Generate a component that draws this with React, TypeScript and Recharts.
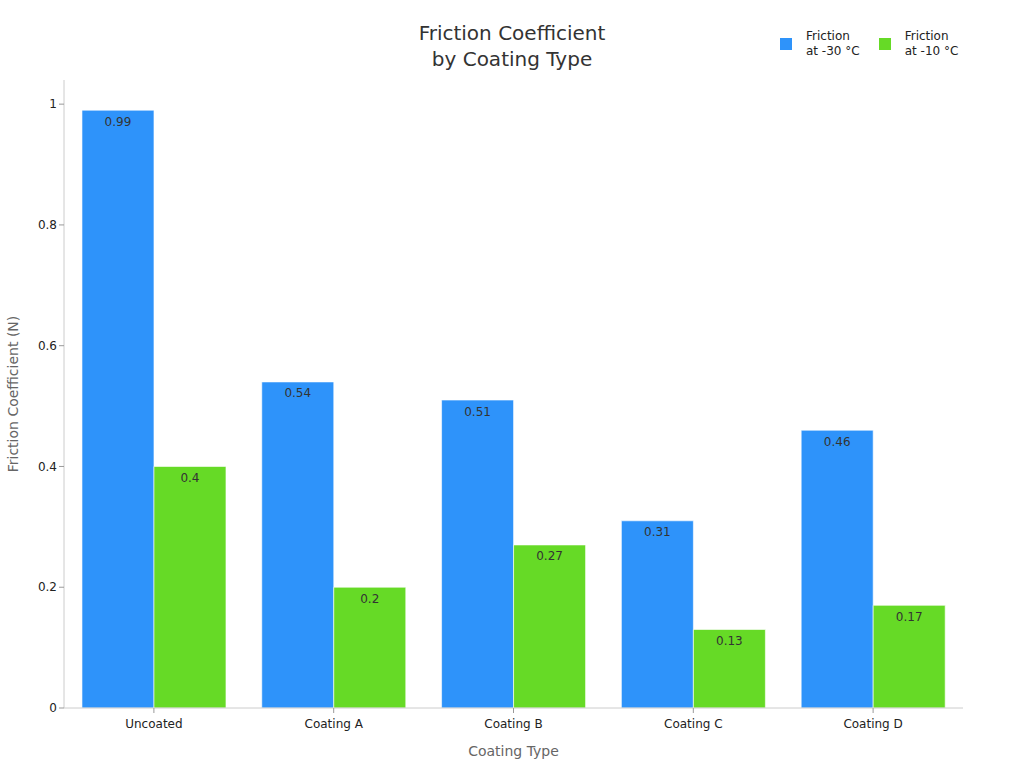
import React from 'react';
import { BarChart, Bar, XAxis, YAxis, LabelList } from 'recharts';

const categories = ['Uncoated', 'Coating A', 'Coating B', 'Coating C', 'Coating D'];
const frictionMinus30 = [0.99, 0.54, 0.51, 0.31, 0.46];
const frictionMinus10 = [0.4, 0.2, 0.27, 0.13, 0.17];
const yTicks = [0, 0.2, 0.4, 0.6, 0.8, 1];

const SERIES = [
  { key: 'cold', name: ['Friction', 'at -30 °C'], color: '#2E93FA' },
  { key: 'warm', name: ['Friction', 'at -10 °C'], color: '#66DA26' },
];

const data = categories.map((name, i) => ({
  name,
  cold: frictionMinus30[i],
  warm: frictionMinus10[i],
}));

const FONT = '"DejaVu Sans", sans-serif';

export default function App() {
  return (
    <div style={{ position: 'fixed', left: 0, top: 0, width: 1024, height: 768, background: '#fff' }}>
      <div
        style={{
          position: 'absolute',
          top: 20,
          left: 0,
          width: 1024,
          textAlign: 'center',
          fontFamily: FONT,
          fontSize: 20,
          lineHeight: '26px',
          color: '#333',
        }}
      >
        Friction Coefficient
        <br />
        by Coating Type
      </div>
      {/* legend sits top right, outside the plot area */}
      <div style={{ position: 'absolute', top: 29, left: 780, display: 'flex', fontFamily: FONT, fontSize: 12, color: '#222' }}>
        {SERIES.map((s) => (
          <div key={s.key} style={{ display: 'flex', alignItems: 'center', marginRight: 19 }}>
            <span style={{ width: 12, height: 12, background: s.color, display: 'inline-block', marginRight: 14 }} />
            <span style={{ lineHeight: '15px' }}>
              {s.name[0]}
              <br />
              {s.name[1]}
            </span>
          </div>
        ))}
      </div>
      <BarChart
        width={1024}
        height={768}
        data={data}
        margin={{ top: 80, right: 61, bottom: 5, left: 0 }}
        barCategoryGap="10%"
        barGap={0}
      >
        <XAxis
          dataKey="name"
          height={55}
          tick={{ fill: '#222', fontSize: 12, fontFamily: FONT }}
          tickLine={{ stroke: '#999' }}
          axisLine={{ stroke: '#ccc' }}
          tickSize={5}
          tickMargin={6}
          label={{ value: 'Coating Type', position: 'insideBottom', offset: 7, fill: '#666', fontSize: 14, fontFamily: FONT }}
        />
        <YAxis
          width={64}
          domain={[0, 1.04]}
          ticks={yTicks}
          tick={{ fill: '#222', fontSize: 12, fontFamily: FONT }}
          tickLine={{ stroke: '#999' }}
          axisLine={{ stroke: '#ccc' }}
          tickSize={5}
          label={{ value: 'Friction Coefficient (N)', angle: -90, position: 'insideLeft', offset: 13, fill: '#666', fontSize: 14, fontFamily: FONT, style: { textAnchor: 'middle' } }}
        />
        {SERIES.map((s) => (
          <Bar key={s.key} dataKey={s.key} fill={s.color} stroke="rgba(255,255,255,0.6)" strokeWidth={1} isAnimationActive={false}>
            <LabelList dataKey={s.key} position="insideTop" offset={7} fill="#333" fontSize={12} fontFamily={FONT} />
          </Bar>
        ))}
      </BarChart>
    </div>
  );
}
